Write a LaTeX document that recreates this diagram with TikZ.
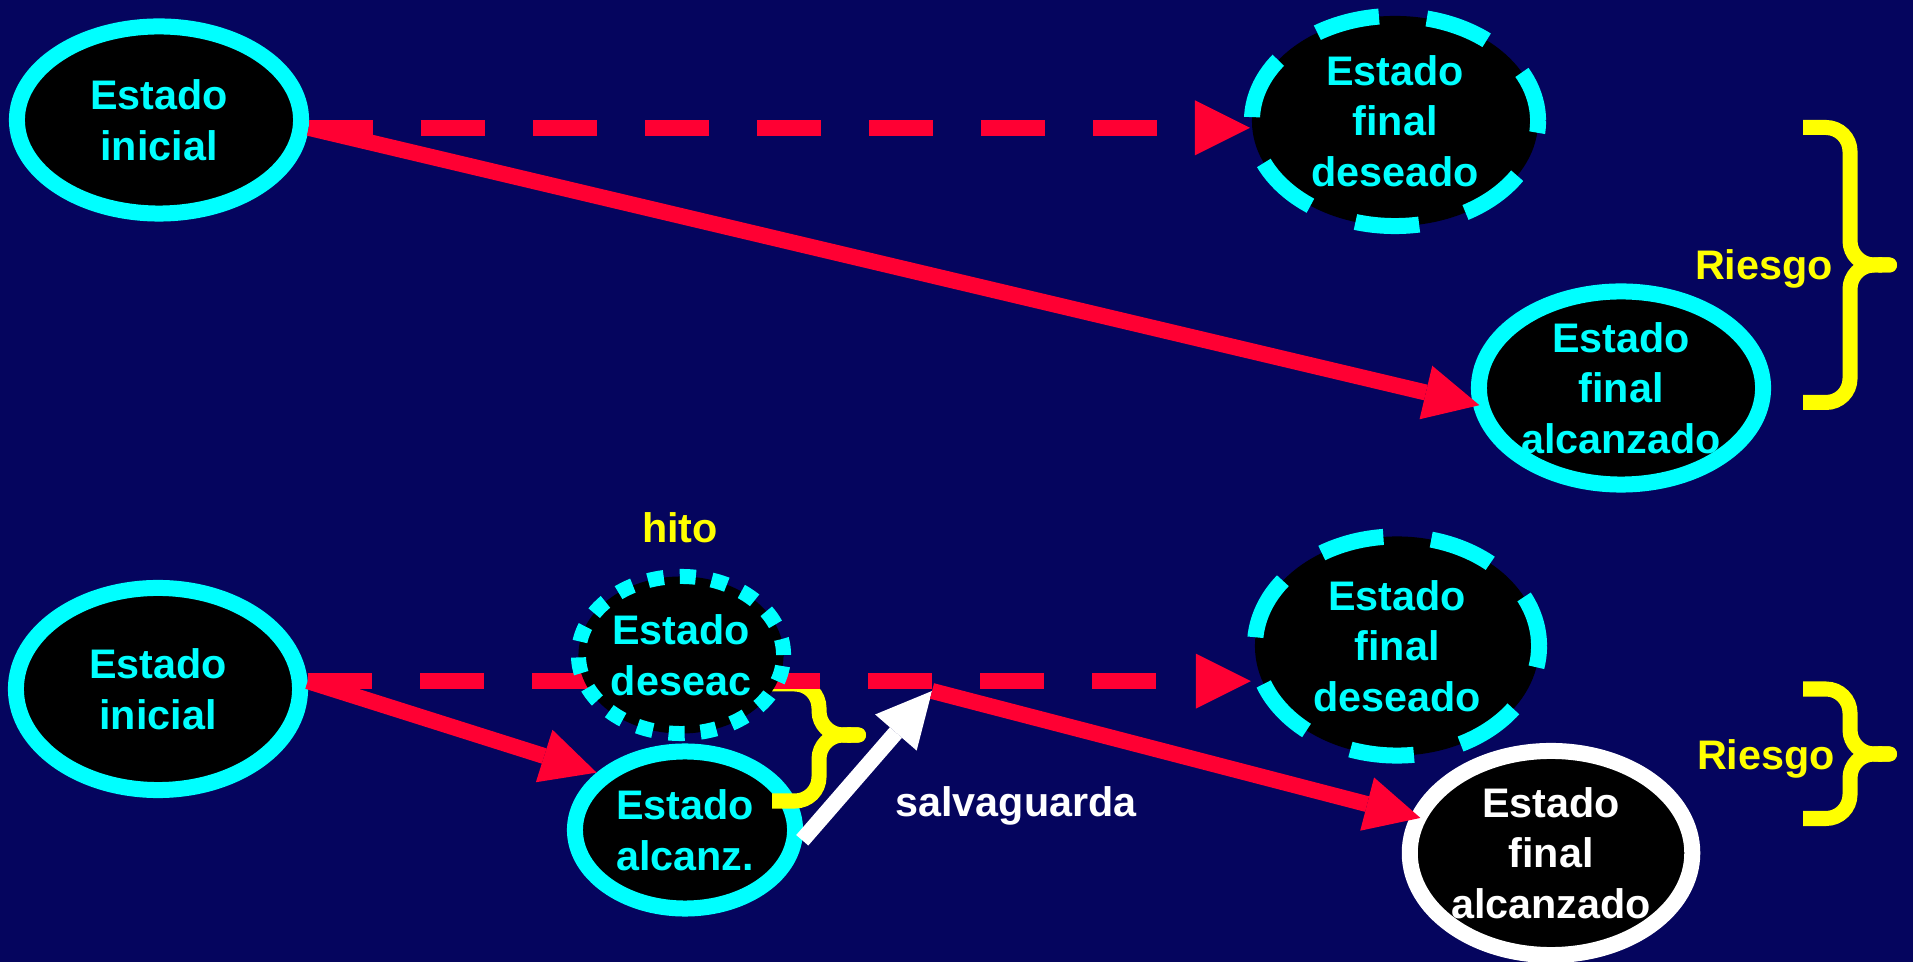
\documentclass[tikz,border=0pt]{standalone}
\usepackage{fontspec}
\setmainfont{Liberation Sans}
\usetikzlibrary{arrows.meta,shapes.geometric}

\definecolor{fondo}{HTML}{05055E}
\definecolor{rojo}{HTML}{FF0033}
\definecolor{cian}{HTML}{00FFFF}
\definecolor{amarillo}{HTML}{FFFF00}

\tikzset{
  estado/.style={ellipse, fill=black, draw=cian, line width=0.16cm, text=cian,
    inner sep=0pt, align=center, font=\bfseries\fontsize{11.75pt}{14.4pt}\selectfont},
  deseado/.style={estado, dash pattern=on 0.64cm off 0.48cm, dash phase=0.12cm},
  hito/.style={estado, line width=0.15cm, dash pattern=on 0.16cm off 0.16cm},
  flecha/.style={draw=rojo, line width=0.16cm,
    -{Triangle[length=0.55cm, width=0.55cm, line width=0pt]}},
  plan/.style={flecha, dash pattern=on 0.64cm off 0.48cm},
  llave/.style={draw=amarillo, line width=0.15cm, rounded corners=0.24cm},
  etiqueta/.style={anchor=base, inner sep=0pt, font=\bfseries\fontsize{11.75pt}{14.4pt}\selectfont}
}

% llave: brazos en x=#1, arriba #2, punta #3, abajo #4
\newcommand{\llave}[4]{%
  \draw[llave, -{Round Cap}] (#1,#2) -| (#1+47,#3) -- (#1+94,#3);
  \draw[llave, {Round Cap}-] (#1+94,#3) -- (#1+47,#3) |- (#1,#4);
}

\begin{document}
\begin{tikzpicture}[x=0.01cm, y=-0.01cm]
    \path[use as bounding box, fill=fondo] (0,0) rectangle (1913,962);

    % sin hitos
    \node[estado, minimum width=2.84cm, minimum height=1.87cm] (ini1) at (159,120) {Estado\\inicial};
    \node[deseado, minimum width=2.86cm, minimum height=2.10cm] (des1) at (1395,121) {Estado\\final\\deseado};
    \node[estado, minimum width=2.84cm, minimum height=1.93cm] (alc1) at (1621,388) {Estado\\final\\alcanzado};

    % con hito y salvaguarda
    \node[estado, minimum width=2.84cm, minimum height=2.02cm] (ini2) at (158,689) {Estado\\inicial};
    \node[deseado, minimum width=2.84cm, minimum height=2.19cm] (des2) at (1397,646) {Estado\\final\\deseado};
    \node[estado, minimum width=2.20cm, minimum height=1.57cm] (alz2) at (685,830) {Estado\\alcanz.};
    \node[estado, draw=white, text=white, minimum width=2.79cm, minimum height=2.04cm] (alc2) at (1551,853) {Estado\\final\\alcanzado};
    \coordinate (sv) at (932,691);

    \llave{1803}{127.5}{265}{402.5}
    \llave{1803}{689}{754}{818.5}
    \llave{772}{684}{735}{801}

    \draw[plan, shorten >=-0.06cm] (ini1.-3) -- (ini1.-3 -| des1.west);
    \draw[flecha, shorten >=-0.07cm] (ini1.-3) -- (alc1.186);
    \draw[plan, shorten >=-0.04cm] (ini2.3) -- (ini2.3 -| des2.west);
    \draw[flecha] (ini2.3) -- (alz2.147);
    \draw[flecha, draw=white] (alz2.-5) -- (sv);
    \draw[flecha, shorten >=-0.1cm] (sv) -- (alc2.165);

    \node[hito, minimum width=2.05cm, minimum height=1.57cm] (hito) at (681,655) {Estado\\deseac};

    \node[etiqueta, text=amarillo] (riesgo1) at (1764,280) {Riesgo};
    \node[etiqueta, text=amarillo] (riesgo2) at (1766,770) {Riesgo};
    \node[etiqueta, text=amarillo] (hitotxt) at (680,543) {hito};
    \node[etiqueta, text=white] (salv) at (1016,817) {salvaguarda};
\end{tikzpicture}
\end{document}
